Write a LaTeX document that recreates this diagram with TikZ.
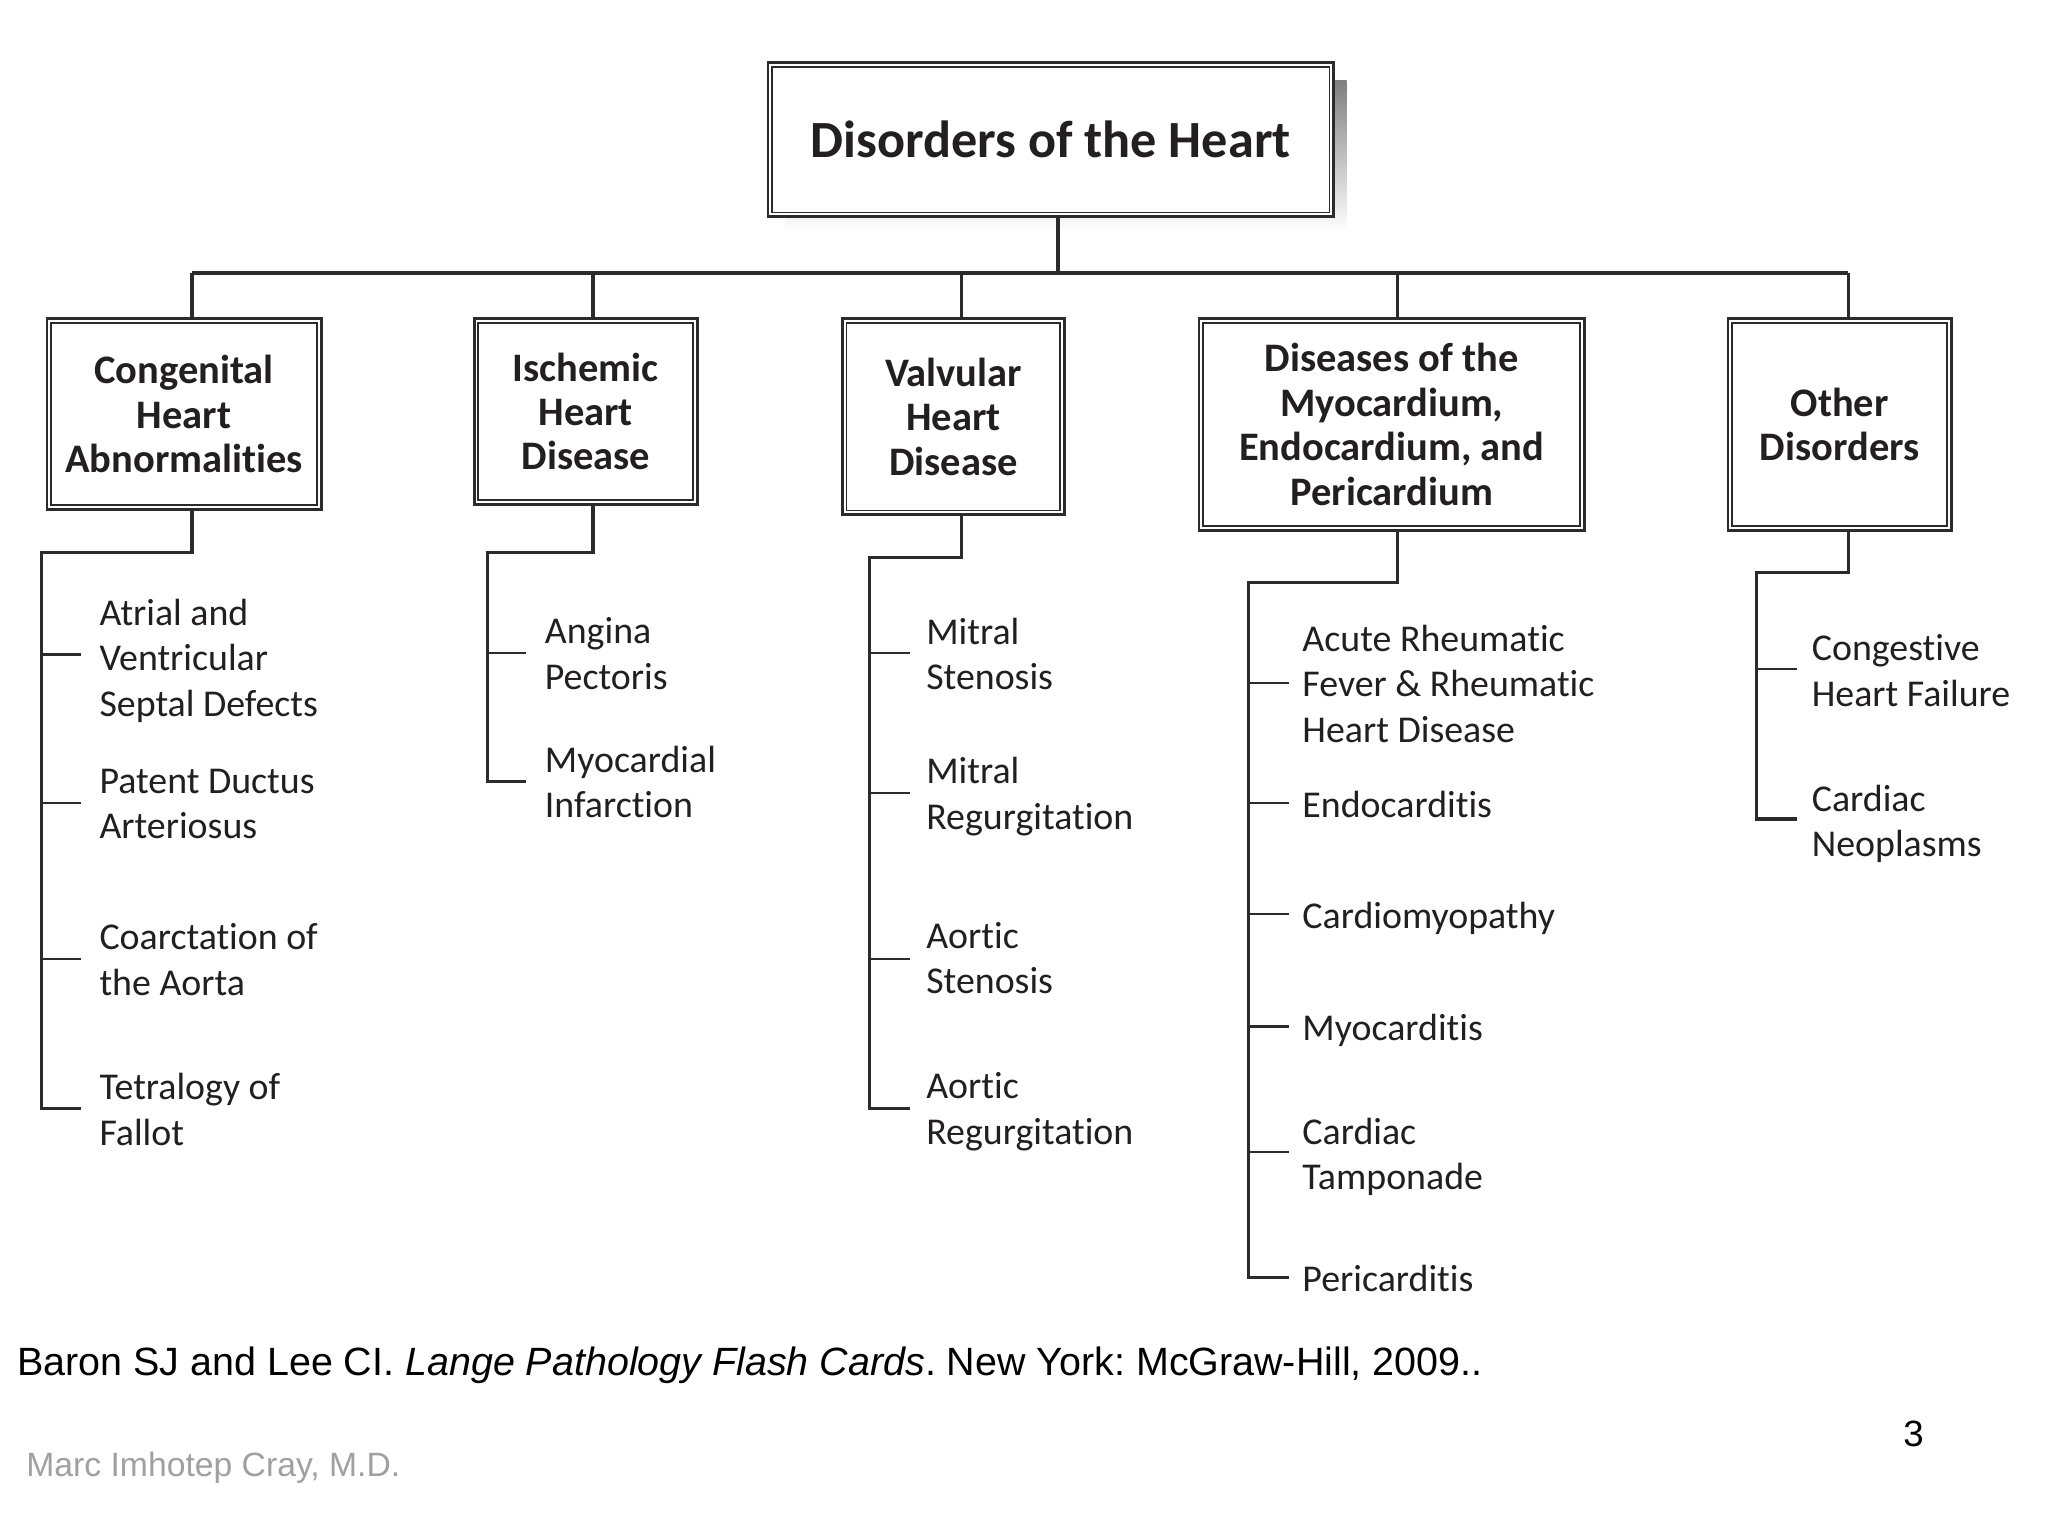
\documentclass[tikz,border=0pt]{standalone}
\usepackage{fontspec}
\setmainfont{Carlito}[Ligatures=NoCommon]
\newfontfamily\arialf{Liberation Sans}
\frenchspacing
\definecolor{ink}{HTML}{231F20}
\definecolor{lnc}{HTML}{2B2B2B}
\definecolor{shade}{HTML}{D9D9D9}
\definecolor{greytxt}{HTML}{A0A0A0}
\tikzset{
  hbox/.style={rectangle, draw=lnc, line width=2.2pt, fill=white, inner sep=0pt,
    align=center, text=ink, font=\bfseries\fontsize{31}{34}\selectfont},
  item/.style={anchor=west, inner sep=0pt, align=left, text=ink, yshift=-3pt,
    font=\fontsize{29}{35}\selectfont, execute at end node={\vphantom{g}}},
  conn/.style={draw=lnc, line width=2.4pt},
  tick/.style={draw=lnc, line width=1.8pt},
}
\begin{document}
\begin{tikzpicture}[x=1pt,y=-1pt]
\useasboundingbox[fill=white] (0,0) rectangle (1568,1176);

% title
\fill[shade] (601,62) rectangle (1031,177);
\node[hbox, minimum width=433pt, minimum height=118pt, font=\bfseries\fontsize{40}{44}\selectfont] (T) at (804.5,107) {Disorders of the Heart};

% category boxes
\node[hbox, minimum width=210pt, minimum height=146pt] (A) at (141,317) {Congenital\\Heart\\Abnormalities};
\node[hbox, minimum width=171pt, minimum height=142pt] (B) at (448.5,315) {Ischemic\\Heart\\Disease};
\node[hbox, minimum width=170pt, minimum height=150pt] (C) at (730,319) {Valvular\\Heart\\Disease};
\node[hbox, minimum width=295pt, minimum height=162pt] (D) at (1065.5,325) {Diseases of the\\Myocardium,\\Endocardium, and\\Pericardium};
\node[hbox, minimum width=171pt, minimum height=162pt] (E) at (1408.5,325) {Other\\Disorders};

\foreach \n in {T,A,B,C,D,E}{
  \draw[lnc, line width=1.3pt] ([shift={(4.3pt,-4.3pt)}]\n.north west) rectangle ([shift={(-4.3pt,4.3pt)}]\n.south east);
}

% hub
\coordinate (hub) at (810,209);
\coordinate (dA) at (147,209);
\coordinate (dB) at (454,209);
\coordinate (dC) at (736,209);
\coordinate (dD) at (1070,209);
\coordinate (dE) at (1415,209);
\draw[conn] (T.south -| hub) -- (hub);
\draw[conn] (dA) -- (dE);
\foreach \d/\b in {dA/A,dB/B,dC/C,dD/D,dE/E}{
  \draw[conn] (\d) -- (\d |- \b.north);
}

% items: Congenital
\foreach \n/\y in {a1/501,a2/615,a3/734,a4/849}{\coordinate (t\n) at (62,\y);}
\node[item] (a1) at (76,503) {Atrial and\\Ventricular\\Septal Defects};
\node[item] (a2) at (76,615) {Patent Ductus\\Arteriosus};
\node[item] (a3) at (76,734) {Coarctation of\\the Aorta};
\node[item] (a4) at (76,849) {Tetralogy of\\Fallot};
\coordinate (gA) at (32,423);
\draw[conn] (dA |- A.south) -- (dA |- gA) -- (gA) -- (gA |- ta4) -- (ta4);
\foreach \i in {a1,a2,a3}{\draw[tick] (gA |- t\i) -- (t\i);}

% items: Ischemic
\foreach \n/\y in {b1/500,b2/598}{\coordinate (t\n) at (403,\y);}
\node[item] (b1) at (417,500) {Angina\\Pectoris};
\node[item] (b2) at (417,598) {Myocardial\\Infarction};
\coordinate (gB) at (373,423);
\draw[conn] (dB |- B.south) -- (dB |- gB) -- (gB) -- (gB |- tb2) -- (tb2);
\draw[tick] (gB |- tb1) -- (tb1);

% items: Valvular
\foreach \n/\y in {c1/500,c2/607,c3/734,c4/849}{\coordinate (t\n) at (697,\y);}
\node[item] (c1) at (709,500) {Mitral\\Stenosis};
\node[item] (c2) at (709,607) {Mitral\\Regurgitation};
\node[item] (c3) at (709,733) {Aortic\\Stenosis};
\node[item] (c4) at (709,848) {Aortic\\Regurgitation};
\coordinate (gC) at (666,427);
\draw[conn] (dC |- C.south) -- (dC |- gC) -- (gC) -- (gC |- tc4) -- (tc4);
\foreach \i in {c1,c2,c3}{\draw[tick] (gC |- t\i) -- (t\i);}

% items: Diseases of myocardium etc.
\foreach \n/\y in {d1/523,d2/615,d3/700,d4/786,d5/882,d6/978}{\coordinate (t\n) at (987,\y);}
\node[item] (d1) at (997,523) {Acute Rheumatic\\Fever \& Rheumatic\\Heart Disease};
\node[item] (d2) at (997,615) {Endocarditis};
\node[item] (d3) at (997,700) {Cardiomyopathy};
\node[item] (d4) at (997,786) {Myocarditis};
\node[item] (d5) at (997,883) {Cardiac\\Tamponade};
\node[item] (d6) at (997,978) {Pericarditis};
\coordinate (gD) at (956,446);
\draw[conn] (dD |- D.south) -- (dD |- gD) -- (gD) -- (gD |- td6) -- (td6);
\foreach \i in {d1,d2,d3,d4,d5}{\draw[tick] (gD |- t\i) -- (t\i);}

% items: Other
\foreach \n/\y in {e1/512,e2/627}{\coordinate (t\n) at (1376,\y);}
\node[item] (e1) at (1387,513) {Congestive\\Heart Failure};
\node[item] (e2) at (1387,628) {Cardiac\\Neoplasms};
\coordinate (gE) at (1345,438);
\draw[conn] (dE |- E.south) -- (dE |- gE) -- (gE) -- (gE |- te2) -- (te2);
\draw[tick] (gE |- te1) -- (te1);

% footer
\node[anchor=west, inner sep=0pt, font=\arialf\fontsize{30.2}{34}\selectfont, text=black] (ref) at (13,1045) {Baron SJ and Lee CI. \textit{Lange Pathology Flash Cards}. New York: McGraw-Hill, 2009..};
\node[anchor=west, inner sep=0pt, font=\arialf\fontsize{25.8}{30}\selectfont, text=greytxt] (auth) at (20,1124) {Marc Imhotep Cray, M.D.};
\node[inner sep=0pt, font=\arialf\fontsize{28}{32}\selectfont, text=black] (pg) at (1465,1098) {3};
\end{tikzpicture}
\end{document}
